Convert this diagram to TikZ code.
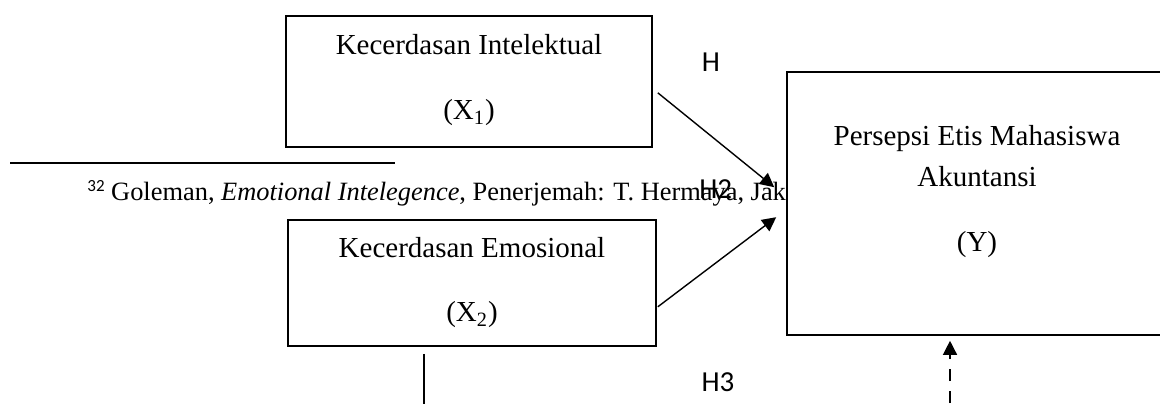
\documentclass[tikz,border=0pt]{standalone}
\usepackage{fontspec}
\setmainfont{Liberation Serif}
\newfontfamily\hypfont{Carlito}
\usetikzlibrary{arrows.meta}
\begin{document}
\begin{tikzpicture}[x=0.5pt,y=-0.5pt,
  box/.style={draw,line width=0.8pt,fill=white,inner sep=0pt,rectangle},
  boxtext/.style={inner sep=0pt,font=\fontsize{14.5}{17}\selectfont},
  notetext/.style={inner sep=0pt,font=\fontsize{13.2}{16}\selectfont},
  hyp/.style={inner sep=0pt,font=\hypfont\fontsize{14.5}{17}\selectfont},
  link/.style={line width=0.7pt,-{Triangle[length=7pt,width=7pt]}},
]
\clip (0,0) rectangle (1160,403);

% independent variables
\node[box,minimum width=183pt,minimum height=65.5pt] (x1) at (469,81.5) {};
\node[boxtext] (x1name) at (469,45) {Kecerdasan Intelektual};
\node[boxtext] (x1sym) at (469,113) {(X\textsubscript{1})};

\node[box,minimum width=184pt,minimum height=63pt] (x2) at (472,283) {};
\node[boxtext] (x2name) at (472,248) {Kecerdasan Emosional};
\node[boxtext] (x2sym) at (472,315) {(X\textsubscript{2})};

% footnote rule and text
\draw[line width=0.65pt] (10,163) -- (395,163);
\node[notetext,anchor=base west] (note) at (87,200)
  {\raisebox{4.5pt}{\hypfont\fontsize{8.5}{9}\selectfont 32} Goleman, \textit{Emotional Intelegence}, Penerjemah: T. Hermaya, Jak};

% dependent variable
\node[box,minimum width=191.5pt,minimum height=131.5pt] (y) at (978.5,203.5) {};
\node[boxtext] (yname1) at (977,139) {Persepsi Etis Mahasiswa};
\node[boxtext] (yname2) at (977,177) {Akuntansi};
\node[boxtext] (ysym) at (977,245) {(Y)};

% hypotheses
\draw[link] ([shift={(5,-55)}]x1.south east) -- ([shift={(-12,116)}]y.north west);
\draw[link] ([shift={(1,-40)}]x2.south east) -- ([shift={(-10,146)}]y.north west);
\draw[line width=0.7pt] ([shift={(-48,7)}]x2.south) -- ([shift={(-48,70)}]x2.south);
\coordinate (h3foot) at (950,403);
\draw[link,dashed,dash pattern=on 6pt off 5pt] (h3foot) -- ([shift={(-28.5,5)}]y.south);

\node[hyp,anchor=base] (h1) at (711,71) {H};
\node[hyp,anchor=base west] (h2) at (699,198) {H2};
\node[hyp,anchor=base] (h3) at (718,391) {H3};
\end{tikzpicture}
\end{document}
